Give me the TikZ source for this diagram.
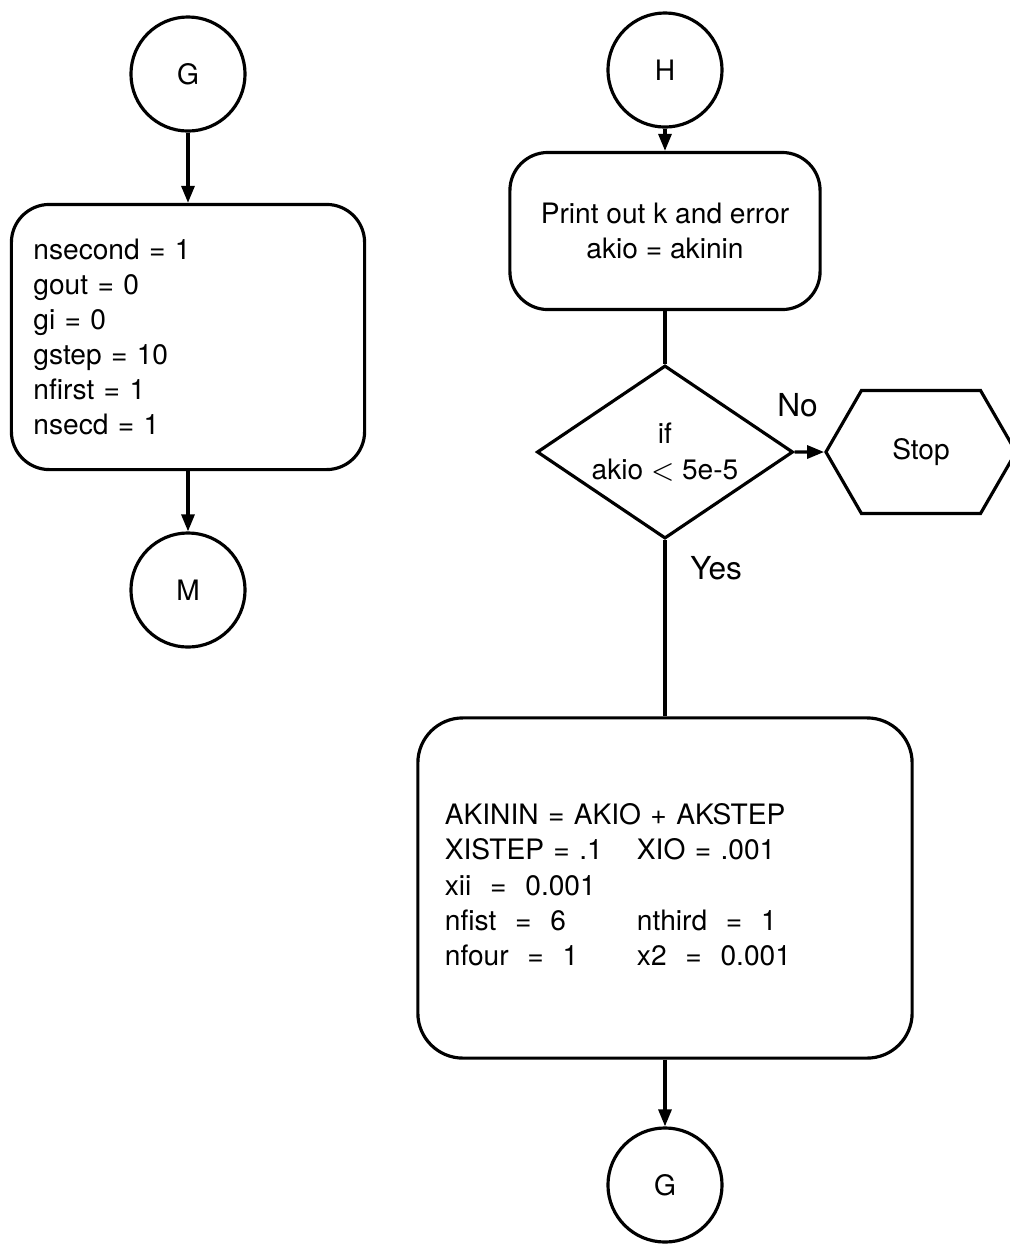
\documentclass[tikz,border=0pt]{standalone}
\usepackage{fontspec}
\setmainfont{TeX Gyre Heros}
\usetikzlibrary{positioning,shapes.geometric,shapes.symbols,arrows.meta}

\begin{document}
\begin{tikzpicture}[x = 0.01cm, y = -0.01cm, line width = 0.9pt,
  font = \fontsize{8}{10}\selectfont,
  conn/.style = {circle, draw, minimum size = 1.14cm, inner sep = 0pt},
  blok/.style = {rectangle, draw, rounded corners = 0.38cm, align = left},
  lbl/.style = {font = \fontsize{9}{11}\selectfont},
  arr/.style = {-{Triangle[length = 1.7mm, width = 1.3mm]}}]
  \useasboundingbox (0,0) rectangle (1010,1244);
  % left column
  \node (g)    at (188,74)  [conn] {G};
  \node (init) at (188,337) [blok, text width = 3.09cm, inner xsep = 0.22cm, minimum height = 2.65cm]
    {nsecond = 1\\ gout = 0\\ gi = 0\\ gstep = 10\\ nfirst = 1\\ nsecd = 1};
  \node (m)    at (188,590) [conn] {M};
  \draw [arr] (g) -- (init);
  \draw [arr] (init) -- (m);
  % right column
  \node (h)     at (665,70)  [conn] {H};
  \node (print) at (665,231) [blok, align = center, minimum width = 3.10cm, minimum height = 1.57cm]
    {Print out k and error\\ akio = akinin};
  \node (test)  at (665,452) [diamond, draw, align = center, inner sep = 0pt, aspect = 1.48,
    minimum width = 2.56cm, minimum height = 1.73cm] {if\\ akio $<$ 5e-5};
  \node (stop)  at (921,452) [signal, draw, signal to = west and east, signal pointer angle = 120,
    minimum width = 1.90cm, minimum height = 1.23cm] {Stop};
  \node (reset) at (665,888) [blok, rounded corners = 0.45cm, text width = 4.40cm, inner xsep = 0.27cm,
    minimum height = 3.40cm]
    {\begin{tabular}{@{}p{1.92cm}@{}l@{}}
      \multicolumn{2}{@{}l@{}}{AKININ = AKIO + AKSTEP}\\
      XISTEP = .1 & XIO = .001\\
      xii \ = \ 0.001 & \\
      nfist \ = \ 6 & nthird \ = \ 1\\
      nfour \ = \ 1 & x2 \ = \ 0.001
    \end{tabular}};
  \node (g2)    at (665,1185) [conn] {G};
  \draw [arr] (h) -- (print);
  \draw (print) -- (test);
  \draw [arr] (test) -- node [lbl, pos = 0.1, above = 0.22cm] {No} (stop);
  \draw (test) -- node [lbl, pos = 0.16, right = 0.12cm] {Yes} (reset);
  \draw [arr] (reset) -- (g2);
\end{tikzpicture}
\end{document}
